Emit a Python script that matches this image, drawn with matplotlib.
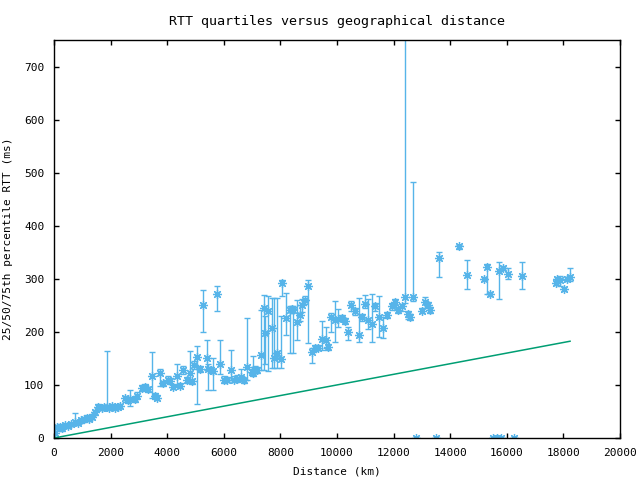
"""RTT quartiles versus geographical distance (gnuplot-style scatter with errorbars)."""

import numpy as np
import matplotlib
matplotlib.use("Agg")
import matplotlib.pyplot as plt

# distance (km), median RTT, 25th and 75th percentile RTT (ms)
DIST = [
    30, 100, 200, 300, 400, 500, 600, 750, 850, 950,
    1050, 1150, 1250, 1350, 1450, 1570, 1680, 1780, 1860, 1950,
    2050, 2150, 2250, 2340, 2510, 2600, 2690, 2860, 2950, 3100,
    3220, 3335, 3450, 3570, 3630, 3750, 3860, 4040, 4100, 4220,
    4340, 4450, 4570, 4690, 4800, 4870, 4950, 5040, 5160, 5280,
    5400, 5455, 5550, 5630, 5774, 5868, 6009, 6127, 6245, 6363,
    6481, 6600, 6716, 6834, 6987, 7045, 7105, 7163, 7304, 7422,
    7457, 7575, 7693, 7787, 7893, 8011, 8070, 8188, 8341, 8400,
    8459, 8577, 8695, 8777, 8871, 8989, 9107, 9225, 9343, 9461,
    9614, 9697, 9779, 9932, 10050, 10168, 10286, 10404, 10486, 10639,
    10780, 10874, 10992, 11110, 11228, 11345, 11499, 11616, 11758, 11935,
    12052, 12170, 12288, 12406, 12524, 12583, 12701, 12790, 12995, 13113,
    13230, 13289, 13500, 13600, 14325, 14608, 15197, 15315, 15409, 15512,
    15653, 15727, 15795, 15880, 16057, 16254, 16528, 17741, 17788, 17882,
    18023, 18117, 18235,
]
MEDIAN = [
    10, 20, 21, 18, 24, 22, 27, 30, 28, 33,
    35, 38, 36, 40, 49, 59, 57, 58, 58, 57,
    60, 56, 59, 61, 75, 72, 73, 73, 80, 94,
    96, 92, 116, 79, 76, 122, 104, 110, 108, 96,
    116, 98, 129, 110, 122, 107, 137, 153, 130, 251,
    151, 130, 128, 127, 271, 139, 110, 110, 129, 110,
    112, 115, 109, 133, 124, 122, 129, 128, 157, 245,
    198, 240, 207, 150, 160, 148, 292, 226, 241, 243,
    241, 218, 232, 251, 260, 287, 163, 170, 170, 186,
    185, 172, 228, 223, 224, 226, 220, 200, 251, 239,
    194, 228, 252, 223, 215, 248, 228, 207, 232, 248,
    257, 241, 248, 266, 233, 228, 266, 0, 240, 257,
    251, 241, 0, 339, 361, 308, 299, 323, 272, 0,
    0, 314, 0, 320, 309, 0, 306, 292, 299, 297,
    281, 299, 303,
]
Q25 = [
    5, 14, 16, 14, 19, 18, 22, 25, 24, 29,
    31, 33, 32, 36, 44, 54, 53, 53, 54, 52,
    55, 52, 54, 56, 68, 66, 60, 68, 75, 88,
    91, 87, 75, 74, 72, 98, 98, 104, 102, 92,
    100, 94, 120, 104, 110, 102, 130, 65, 124, 200,
    128, 91, 122, 91, 240, 120, 104, 105, 110, 105,
    106, 108, 104, 110, 118, 116, 123, 122, 129, 128,
    140, 127, 131, 131, 131, 131, 267, 194, 160, 236,
    160, 185, 220, 238, 252, 179, 142, 164, 165, 165,
    170, 166, 200, 180, 210, 220, 214, 185, 240, 232,
    180, 220, 245, 205, 180, 240, 190, 188, 226, 242,
    250, 236, 240, 255, 225, 222, 258, 0, 235, 245,
    246, 236, 0, 304, 356, 280, 295, 272, 268, 0,
    0, 262, 0, 316, 300, 0, 280, 288, 295, 286,
    277, 295, 295,
]
Q75 = [
    18, 25, 27, 24, 29, 27, 31, 47, 33, 37,
    40, 43, 41, 45, 53, 64, 62, 62, 164, 62,
    64, 60, 64, 65, 80, 78, 91, 78, 86, 100,
    101, 97, 162, 84, 81, 130, 108, 116, 114, 101,
    140, 103, 135, 115, 164, 112, 145, 173, 135, 279,
    185, 140, 134, 150, 287, 185, 116, 115, 165, 116,
    118, 130, 114, 227, 130, 154, 135, 134, 241, 270,
    230, 267, 263, 263, 263, 229, 298, 273, 248, 248,
    248, 260, 250, 262, 268, 298, 169, 176, 176, 220,
    210, 178, 235, 258, 243, 232, 226, 210, 258, 245,
    263, 234, 270, 262, 271, 255, 268, 228, 238, 255,
    262, 247, 253, 800, 240, 234, 482, 0, 245, 265,
    256, 246, 0, 351, 364, 335, 303, 328, 276, 0,
    0, 331, 0, 324, 320, 0, 331, 296, 303, 306,
    285, 303, 320,
]

# speed-of-light-in-fibre bound: RTT = distance / 100
LINE_X = [0, 18235]
LINE_Y = [0, 182.35]

plt.rcParams["font.family"] = ["DejaVu Sans Mono"]
plt.rcParams["font.size"] = 8

fig = plt.figure(figsize=(6.4, 4.8), dpi=100)
ax = fig.add_axes([54 / 640, 42 / 480, 566 / 640, 398 / 480])

dist = np.array(DIST, dtype=float)
med = np.array(MEDIAN, dtype=float)
lo = med - np.array(Q25, dtype=float)
hi = np.array(Q75, dtype=float) - med

ax.errorbar(dist, med, yerr=[lo, hi], fmt="none", ecolor="#56B4E9",
            elinewidth=1.0, capsize=2.2, capthick=1.0)
ax.plot(dist, med, linestyle="none", marker=(8, 2, 0), markersize=6.5,
        markeredgewidth=0.9, color="#56B4E9")
ax.plot(LINE_X, LINE_Y, color="#009E73", linewidth=1.1)

ax.set_xlim(0, 20000)
ax.set_ylim(0, 750)
ax.set_xticks(range(0, 20001, 2000))
ax.set_yticks(range(0, 701, 100))
ax.tick_params(direction="in", top=True, right=True, length=3.5, width=1, pad=7)
for s in ax.spines.values():
    s.set_linewidth(1)

ax.set_title("RTT quartiles versus geographical distance", pad=11)
ax.set_xlabel("Distance (km)", labelpad=6)
ax.set_ylabel("25/50/75th percentile RTT (ms)", labelpad=8)

fig.savefig("out.png", dpi=100)
